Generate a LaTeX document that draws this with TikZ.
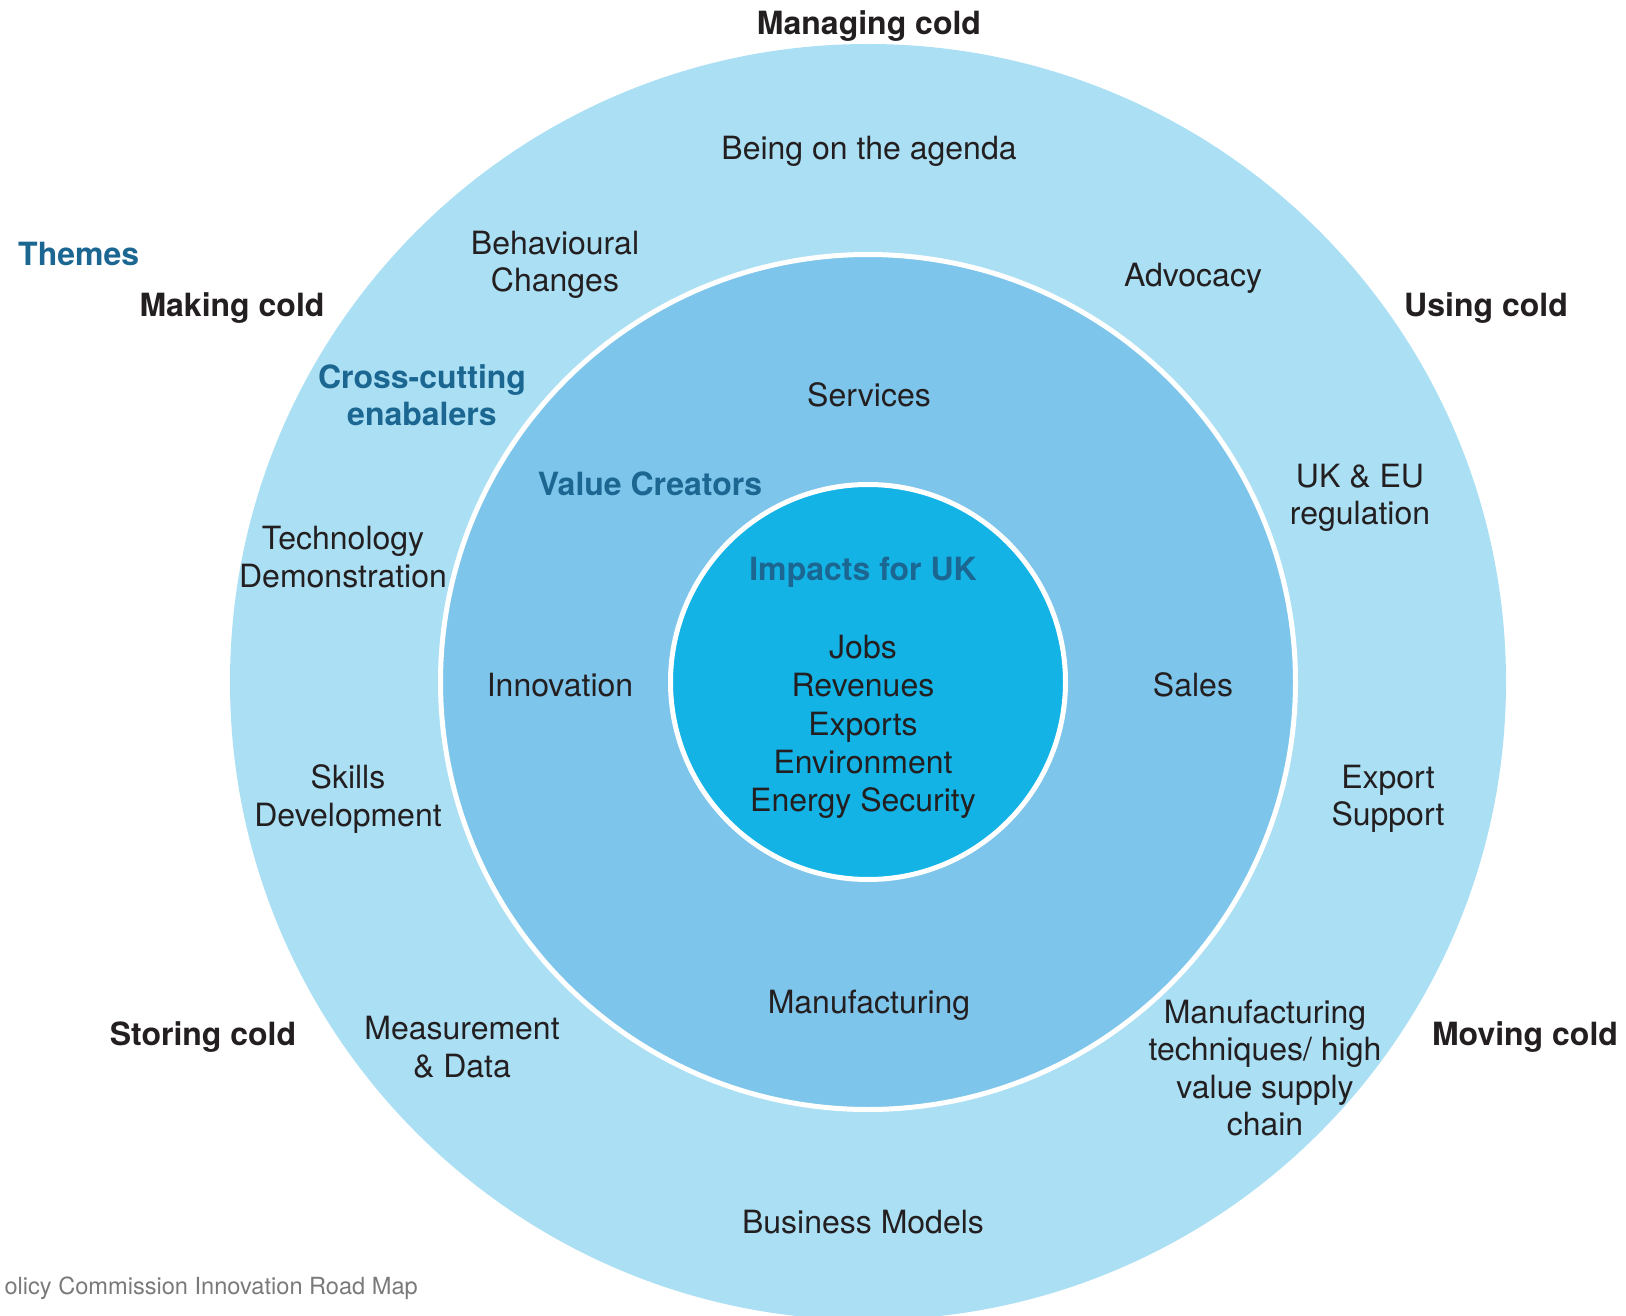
\documentclass[tikz,border=0pt]{standalone}
\usepackage{fontspec}
\setmainfont{TeX Gyre Heros}
\definecolor{ringout}{HTML}{AADFF4}
\definecolor{ringmid}{HTML}{7EC5EB}
\definecolor{ringin}{HTML}{13B3E5}
\definecolor{headblue}{HTML}{1B6792}
\definecolor{ink}{HTML}{231F20}
\definecolor{foot}{HTML}{7A7A7A}
\begin{document}
\begin{tikzpicture}[x=1pt,y=-1pt,
  lbl/.style={inner sep=0pt,align=center,text=ink,font=\fontsize{32}{37.5}\selectfont},
  theme/.style={inner sep=0pt,align=center,text=ink,font=\fontsize{32}{37.5}\selectfont\bfseries},
  ttl/.style={inner sep=0pt,align=center,text=headblue,font=\fontsize{32}{37.5}\selectfont\bfseries},
  ring/.style={draw=white,line width=5pt}]
\useasboundingbox (0,0) rectangle (1626,1316);
\fill[ringout] (868,682) circle[radius=638pt];
\path[ring,fill=ringmid] (868,682) circle[radius=427.5pt];
\path[ring,fill=ringin] (868,682) circle[radius=197.5pt];

% themes
\node[theme] (managing) at (869,26) {Managing cold};
\node[theme] (making) at (232,308) {Making cold};
\node[theme] (using) at (1486,308) {Using cold};
\node[theme] (storing) at (203,1037) {Storing cold};
\node[theme] (moving) at (1525,1037) {Moving cold};

% titles
\node[ttl,anchor=west] (themes) at (18,254) {Themes};
\node[ttl] (cross) at (422,395) {Cross-cutting\\enabalers};
\node[ttl] (value) at (650,484) {Value Creators};
\node[ttl] (impacts) at (863,572) {Impacts for UK};

% outer ring enablers
\node[lbl] (agenda) at (869,151) {Being on the agenda};
\node[lbl] (behav) at (555,265) {Behavioural\\Changes};
\node[lbl] (advocacy) at (1193,278) {Advocacy};
\node[lbl] (ukeu) at (1360,498) {UK \& EU\\regulation};
\node[lbl] (tech) at (343,557) {Technology\\Demonstration};
\node[lbl] (skills) at (348,799) {Skills\\Development};
\node[lbl] (export) at (1388,799) {Export\\Support};
\node[lbl] (measure) at (462,1047) {Measurement\\\& Data};
\node[lbl] (mantech) at (1265,1068) {Manufacturing\\techniques/ high\\value supply\\chain};
\node[lbl] (business) at (863,1222) {Business Models};

% middle ring
\node[lbl] (services) at (869,395) {Services};
\node[lbl] (innov) at (560,685) {Innovation};
\node[lbl] (sales) at (1193,685) {Sales};
\node[lbl] (manuf) at (869,1005) {Manufacturing};

% inner
\node[lbl,font=\fontsize{32}{38.4}\selectfont] (impactlist) at (863,727) {Jobs\\Revenues\\Exports\\Environment\\Energy Security};

% footer
\node[inner sep=0pt,anchor=east,text=foot,font=\fontsize{23.6}{28}\selectfont] (footer) at (418,1288) {olicy Commission Innovation Road Map};
\end{tikzpicture}
\end{document}
